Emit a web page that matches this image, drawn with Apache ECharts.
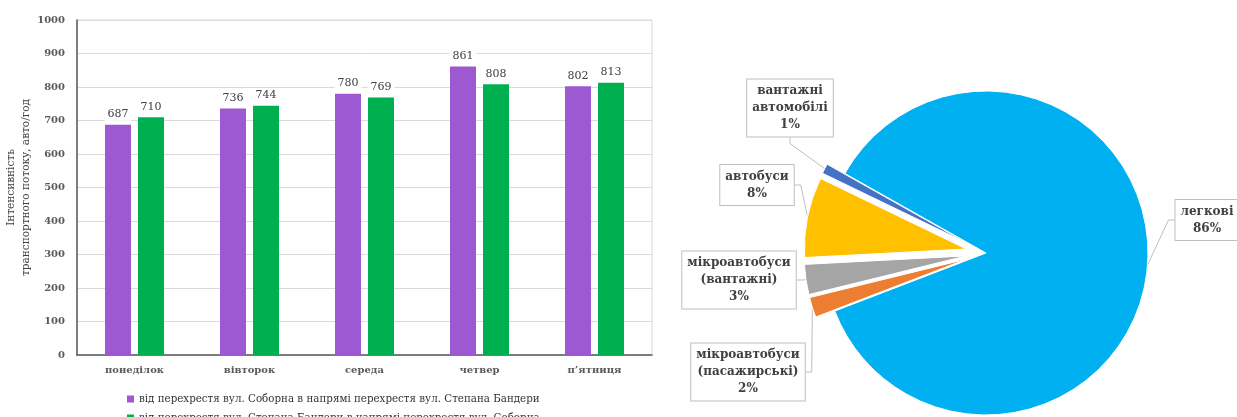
<!DOCTYPE html>
<html>
<head>
<meta charset="utf-8">
<script src="https://cdn.jsdelivr.net/npm/echarts@6/dist/echarts.min.js"></script>
<style>
  html, body { margin: 0; padding: 0; background: #fff; }
  #main { width: 1237px; height: 417px; }
</style>
</head>
<body>
<div id="main"></div>
<script>
  // bar chart data
  const days = ['понеділок', 'вівторок', 'середа', 'четвер', 'п\u2019ятниця']
  const directionNames = [
    'від перехрестя вул. Соборна в напрямі перехрестя вул. Степана Бандери',
    'від перехрестя вул. Степана Бандери в напрямі перехрестя вул. Соборна'
  ]
  const toBandery = [687, 736, 780, 861, 802]
  const toSoborna = [710, 744, 769, 808, 813]

  // pie data (%)
  const vehicleTypes = ['легкові', 'мікроавтобуси (пасажирські)', 'мікроавтобуси (вантажні)', 'автобуси', 'вантажні автомобілі']
  const vehicleShares = [86, 2, 3, 8, 1]

  const serif = 'DejaVu Serif'
  const pieColors = ['#00B0F0', '#ED7D31', '#A5A5A5', '#FFC000', '#4472C4']
  // callout box centres
  const calloutPos = [[1207, 220], [748, 372], [739, 280], [757, 185], [790, 108]]
  const pieCenter = [986, 253]
  const pieStart = 150.6

  const barLabel = {
    show: true,
    position: 'top',
    distance: 4,
    fontFamily: serif,
    fontSize: 11,
    color: '#404040',
    backgroundColor: '#fff',
    padding: [1, 3]
  }

  const calloutLabel = {
    show: true,
    formatter: p => p.name.replace(' ', '\n') + '\n' + p.value + '%',
    fontFamily: serif,
    fontSize: 12,
    fontWeight: 'bold',
    lineHeight: 17,
    color: '#404040',
    align: 'center',
    backgroundColor: '#fff',
    borderColor: '#bfbfbf',
    borderWidth: 1,
    padding: [3, 5]
  }
  const calloutLine = {
    show: true,
    length: 10,
    length2: 6,
    lineStyle: { color: '#bfbfbf', width: 1 }
  }
  const placeCallout = p => ({
    x: calloutPos[p.dataIndex][0],
    y: calloutPos[p.dataIndex][1],
    align: 'center',
    verticalAlign: 'middle'
  })

  const legendText = { fontFamily: serif, fontSize: 10.3, color: '#333' }

  const option = {
    animation: false,
    textStyle: { fontFamily: serif },
    color: ['#9C59D1', '#00B050'],
    legend: [
      {
        data: [directionNames[0]],
        left: 122,
        top: 389,
        icon: 'rect',
        itemWidth: 7,
        itemHeight: 7,
        itemGap: 4,
        textStyle: legendText
      },
      {
        data: [directionNames[1]],
        left: 122,
        top: 408,
        icon: 'rect',
        itemWidth: 7,
        itemHeight: 7,
        textStyle: legendText
      }
    ],
    grid: {
      left: 77,
      right: 585,
      top: 20,
      bottom: 62,
      show: true,
      borderColor: '#d9d9d9',
      borderWidth: 1
    },
    xAxis: {
      type: 'category',
      data: days,
      axisLine: { lineStyle: { color: '#595959', width: 1.5 } },
      axisTick: { show: false },
      axisLabel: { fontFamily: serif, fontSize: 10, fontWeight: 'bold', color: '#595959', margin: 10 }
    },
    yAxis: {
      type: 'value',
      min: 0,
      max: 1000,
      interval: 100,
      name: 'Інтенсивність\nтранспортного потоку, авто/год',
      nameLocation: 'middle',
      nameGap: 38,
      nameTextStyle: { fontFamily: serif, fontSize: 10.5, color: '#404040', lineHeight: 15 },
      axisLine: { show: true, lineStyle: { color: '#595959', width: 1.5 } },
      axisTick: { show: false },
      axisLabel: {
        fontFamily: serif, fontSize: 10, fontWeight: 'bold', color: '#595959', margin: 12,
        formatter: v => String(v)
      },
      splitLine: { lineStyle: { color: '#d9d9d9' } }
    },
    series: [
      {
        name: directionNames[0],
        type: 'bar',
        barWidth: 26,
        barGap: '27%',
        data: toBandery,
        label: barLabel
      },
      {
        name: directionNames[1],
        type: 'bar',
        barWidth: 26,
        barGap: '27%',
        data: toSoborna,
        label: barLabel
      },
      {
        // visible pie, small slices pulled out
        type: 'pie',
        center: pieCenter,
        radius: 162,
        startAngle: pieStart,
        clockwise: true,
        selectedMode: 'multiple',
        selectedOffset: 20,
        avoidLabelOverlap: false,
        itemStyle: { borderColor: '#fff', borderWidth: 1 },
        data: vehicleTypes.map((name, i) => ({
          name: name,
          value: vehicleShares[i],
          selected: i > 0,
          itemStyle: { color: pieColors[i] },
          label: { show: i === 0 },
          labelLine: { show: i === 0 }
        })),
        label: calloutLabel,
        labelLine: calloutLine,
        labelLayout: placeCallout,
        emphasis: { disabled: true }
      },
      {
        // transparent copy that carries the callouts of the pulled-out slices
        type: 'pie',
        center: pieCenter,
        radius: 182,
        startAngle: pieStart,
        clockwise: true,
        silent: true,
        avoidLabelOverlap: false,
        itemStyle: { color: 'rgba(0,0,0,0)', borderWidth: 0 },
        data: vehicleTypes.map((name, i) => ({
          name: name,
          value: vehicleShares[i],
          label: { show: i > 0 },
          labelLine: { show: i > 0 }
        })),
        label: calloutLabel,
        labelLine: calloutLine,
        labelLayout: placeCallout,
        emphasis: { disabled: true }
      }
    ]
  }

  const chart = echarts.init(document.getElementById('main'))
  chart.setOption(option)
</script>
</body>
</html>
